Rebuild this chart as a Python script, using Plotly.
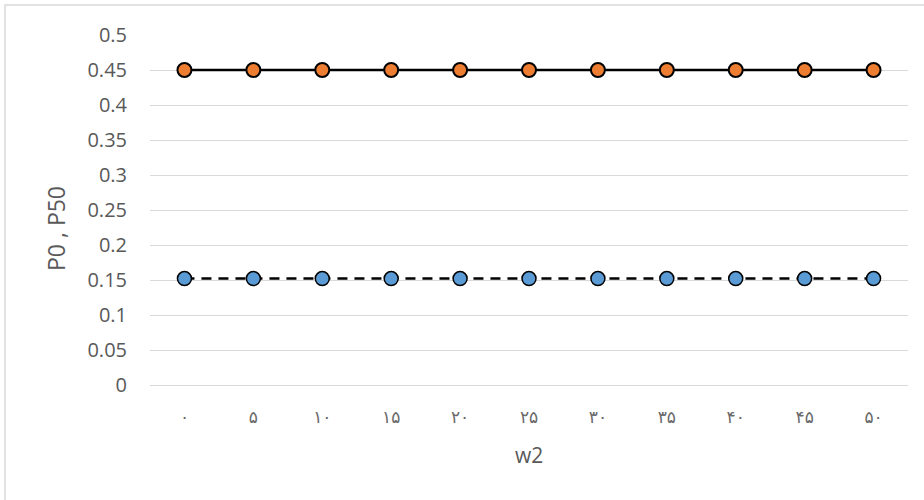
import plotly.graph_objects as go

x_labels = ["۰", "۵", "۱۰", "۱۵", "۲۰", "۲۵", "۳۰", "۳۵", "۴۰", "۴۵", "۵۰"]
p0 = [0.152] * 11
p50 = [0.45] * 11

fig = go.Figure()
fig.add_trace(go.Scatter(
    x=list(range(len(x_labels))), y=p0, mode="lines+markers", name="P0",
    line=dict(color="black", width=2.5, dash="10px,7px"),
    marker=dict(size=14, color="#5B9BD5", line=dict(color="black", width=1.5)),
))
fig.add_trace(go.Scatter(
    x=list(range(len(x_labels))), y=p50, mode="lines+markers", name="P50",
    line=dict(color="black", width=2.5),
    marker=dict(size=14, color="#ED7D31", line=dict(color="black", width=2)),
))

fig.update_layout(
    width=924, height=500,
    margin=dict(l=150, r=16, t=35, b=115),
    paper_bgcolor="white", plot_bgcolor="white",
    showlegend=False,
    font=dict(family="Open Sans, Noto Sans, DejaVu Sans", color="#595959", size=20),
    xaxis=dict(
        range=[-0.5, 10.5], tickmode="array",
        tickvals=list(range(len(x_labels))), ticktext=x_labels,
        showgrid=False, zeroline=False, showline=True, linecolor="#d9d9d9", linewidth=1,
        ticks="", ticklabelstandoff=17,
        tickfont=dict(size=17, family="DejaVu Sans", color="#6a6a6a"),
    ),
    yaxis=dict(
        range=[0, 0.5], dtick=0.05, tickformat="~g",
        showgrid=True, gridcolor="#d9d9d9", gridwidth=1, zeroline=False,
        showline=False, ticks="", ticklabelstandoff=22,
    ),
    annotations=[
        dict(text="w2", xref="paper", yref="paper", x=0.5, y=-70/350,
             xanchor="center", yanchor="middle", showarrow=False,
             font=dict(size=21, color="#595959")),
        dict(text="P0 , P50", xref="paper", yref="paper", x=(56-150)/758, y=(385-229)/350,
             xanchor="center", yanchor="middle", textangle=-90, showarrow=False,
             font=dict(size=23, color="#595959")),
    ],
    shapes=[dict(type="rect", xref="paper", yref="paper",
                 x0=-145/758, x1=1+30/758, y0=-130/350, y1=1+30/350,
                 line=dict(color="#d9d9d9", width=1.5))],
)

fig.write_html("out.html", config={"displayModeBar": False},
               post_script="document.body.style.margin='0px';")
